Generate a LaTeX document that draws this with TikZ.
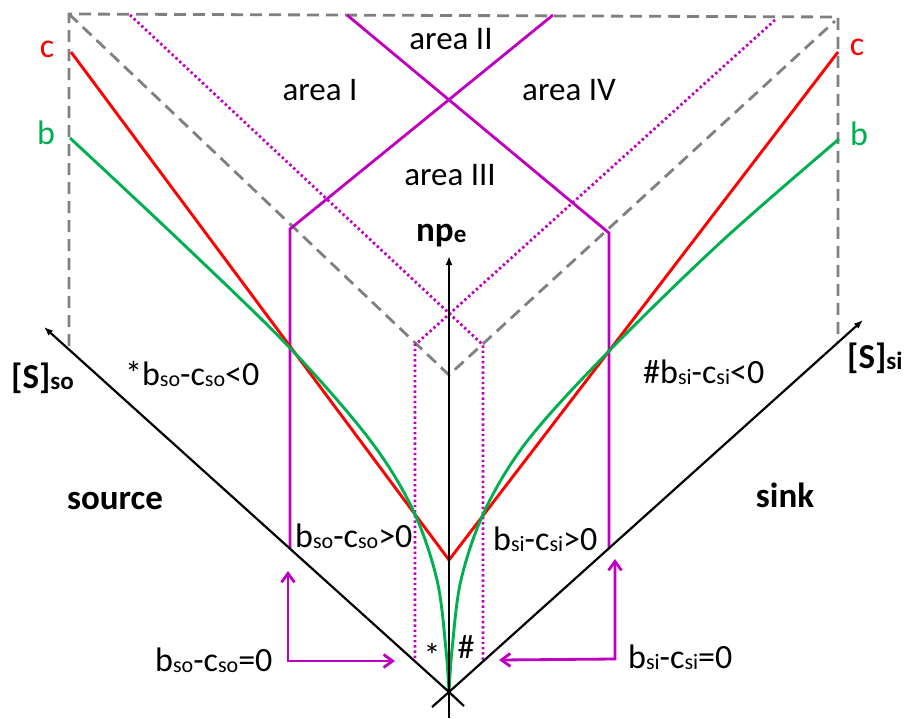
\documentclass[tikz,border=0pt]{standalone}
\usepackage{fontspec}
\setmainfont{Carlito}
\usetikzlibrary{arrows.meta}
\definecolor{cred}{RGB}{255,0,0}
\definecolor{cgreen}{RGB}{0,176,80}
\definecolor{cmag}{RGB}{192,0,192}
\definecolor{cgray}{RGB}{128,128,128}
\newcommand{\sbs}[1]{\raisebox{-1.5pt}{\fontsize{22}{24}\selectfont #1}}
\newcommand{\sbb}[1]{\raisebox{-1pt}{\fontsize{25}{25}\selectfont #1}}
\begin{document}
\begin{tikzpicture}[x=1pt,y=-1pt,
  txt/.style={inner sep=0pt,font=\fontsize{34}{40}\selectfont},
  areatxt/.style={inner sep=0pt,font=\fontsize{33}{40}\selectfont},
  boldtxt/.style={inner sep=0pt,font=\fontsize{35}{40}\selectfont\bfseries},
  axisline/.style={line width=2.2pt,black},
  axisarrow/.style={axisline,-{Latex[length=9pt,width=7pt]}},
  grayd/.style={cgray,line width=2.8pt,dash pattern=on 12pt off 7pt},
  magdot/.style={cmag,line width=2.8pt,dash pattern=on 2.4pt off 2.8pt},
  magsolid/.style={cmag,line width=2.8pt},
  magarrow/.style={cmag,line width=2.8pt,{Straight Barb[length=9pt,width=13pt]}-{Straight Barb[length=9pt,width=13pt]}},
  redline/.style={cred,line width=2.9pt},
  greenline/.style={cgreen,line width=2.9pt}]
\useasboundingbox (0,0) rectangle (905,718);

% key points
\coordinate (O) at (449,692);
\coordinate (TL) at (69,14);
\coordinate (TR) at (838,17);
\coordinate (LB) at (69,346);
\coordinate (RB) at (838,342);
\coordinate (GV) at (449,375);
\coordinate (GR) at (835,21);

% gray dashed frame
\draw[grayd] (LB) -- (TL) -- (TR) -- (RB);
\draw[grayd] (TL) -- (GV) -- (GR);

% magenta dotted
\coordinate (DL0) at (130,15);
\coordinate (DL1) at (483,345);
\coordinate (DL2) at (483,661);
\coordinate (DR0) at (775,20);
\coordinate (DR1) at (415,345);
\coordinate (DR2) at (415,661);
\draw[magdot] (DL0) -- (DL1) -- (DL2);
\draw[magdot] (DR0) -- (DR1) -- (DR2);

% magenta solid
\coordinate (ML0) at (347,15);
\coordinate (ML1) at (609,233);
\coordinate (ML2) at (609,548);
\coordinate (MR0) at (553,15);
\coordinate (MR1) at (290,229);
\coordinate (MR2) at (290,548);
\draw[magsolid] (ML0) -- (ML1) -- (ML2);
\draw[magsolid] (MR0) -- (MR1) -- (MR2);

% red lines
\coordinate (RL) at (71,52);
\coordinate (RV) at (449,560);
\coordinate (RR) at (838,52);
\draw[redline] (RL) -- (RV) -- (RR);

% green curves
\draw[greenline] plot[smooth,tension=0.55] coordinates
  {(70,138) (180,241) (290,348) (370,440) (413,510) (437,580) (446,650) (449,692)};
\draw[greenline] plot[smooth,tension=0.55] coordinates
  {(839,139) (722,241) (608,352) (528,440) (485,510) (461,580) (452,650) (449,692)};

% axes
\coordinate (VB) at (449,718);
\coordinate (VT) at (449,256);
\coordinate (LT) at (44,327);
\coordinate (LE) at (464,706);
\coordinate (RT) at (863,320);
\coordinate (RE) at (432,707);
\draw[axisarrow] (VB) -- (VT);
\draw[axisarrow] (LE) -- (O) -- (LT);
\draw[axisarrow] (RE) -- (O) -- (RT);

% magenta arrows
\coordinate (A1a) at (288,571);
\coordinate (A1b) at (288,661);
\coordinate (A1c) at (395,661);
\coordinate (A2a) at (615,559);
\coordinate (A2b) at (615,659);
\coordinate (A2c) at (499,660);
\draw[magarrow] (A1a) -- (A1b) -- (A1c);
\draw[magarrow] (A2a) -- (A2b) -- (A2c);

% labels
\node[txt,text=cred,anchor=base] (cl) at (47,57) {c};
\node[txt,text=cgreen,anchor=base] (bl) at (46,144) {b};
\node[txt,text=cred,anchor=base] (cr) at (857,55) {c};
\node[txt,text=cgreen,anchor=base] (br) at (859,145) {b};

\node[areatxt,anchor=base] (a1) at (320,100) {area I};
\node[areatxt,anchor=base] (a2) at (451,49) {area II};
\node[areatxt,anchor=base] (a4) at (569,100) {area IV};
\node[areatxt,anchor=base] (a3) at (450,185) {area III};

\node[boldtxt,anchor=base west] (np) at (416,241) {np\sbb{e}};
\node[boldtxt,anchor=base west] (sso) at (11,388) {[S]\sbb{so}};
\node[boldtxt,anchor=base west] (ssi) at (847,368) {[S]\sbb{si}};
\node[boldtxt,anchor=base] (src) at (115,509) {source};
\node[boldtxt,anchor=base] (snk) at (785,507) {sink};

\node[txt,anchor=base west] (l1) at (125,385) {*b\sbs{so}-c\sbs{so}<0};
\node[txt,anchor=base west] (r1) at (643,383) {\#b\sbs{si}-c\sbs{si}<0};
\node[txt,anchor=base west] (l2) at (295,547) {b\sbs{so}-c\sbs{so}>0};
\node[txt,anchor=base west] (r2) at (493,550) {b\sbs{si}-c\sbs{si}>0};
\node[txt,anchor=base west] (l3) at (155,671) {b\sbs{so}-c\sbs{so}=0};
\node[txt,anchor=base west] (r3) at (628,668) {b\sbs{si}-c\sbs{si}=0};
\node[txt,anchor=center] (st) at (432,655) {*};
\node[txt,anchor=base] (hs) at (466,658) {\#};
\end{tikzpicture}
\end{document}
